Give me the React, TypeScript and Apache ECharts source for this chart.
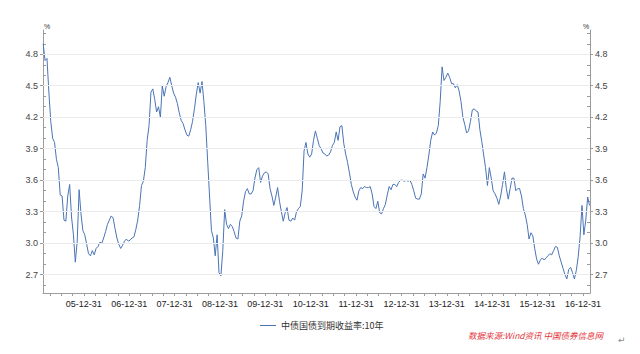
import React, { useEffect, useRef } from 'react';
import * as echarts from 'echarts';

// ---- axis ranges (decimal years / percent) ----
const X_MIN = 2005.1;
const X_MAX = 2017.156;
const Y_MIN = 2.526;
const Y_MAX = 5.031;

// ---- tick labels ----
const xTickLabels = ['05-12-31', '06-12-31', '07-12-31', '08-12-31', '09-12-31', '10-12-31', '11-12-31', '12-12-31', '13-12-31', '14-12-31', '15-12-31', '16-12-31'];
const yTickLabels = [2.7, 3.0, 3.3, 3.6, 3.9, 4.2, 4.5, 4.8];
const yMinorTicks = [2.6, 2.8, 2.9, 3.1, 3.2, 3.4, 3.5, 3.7, 3.8, 4.0, 4.1, 4.3, 4.4, 4.6, 4.7, 4.9, 5.0];
const quarterFractions = [0.25, 0.5, 0.75, 1.0];

const seriesName = '中债国债到期收益率:10年';
const sourceNote = '数据来源:Wind资讯 中国债券信息网';

// ---- semi-monthly readings of the 10Y yield (%) ----
// 2005 starts at the 3rd half-month (early Feb)
const y2005 = [4.90, 4.74, 4.76, 4.44, 4.16, 4.00, 3.96, 3.80, 3.72, 3.46, 3.45, 3.22, 3.21, 3.45, 3.56, 3.25, 3.08, 2.82, 3.02, 3.51, 3.28, 3.12];
const y2006 = [3.08, 2.99, 2.90, 2.88, 2.93, 2.89, 2.95, 2.97, 3.01, 3.00, 3.05, 3.11, 3.18, 3.22, 3.26, 3.24, 3.14, 3.05, 2.99, 2.95, 2.98, 3.02, 3.04, 3.02];
const y2007 = [3.03, 3.05, 3.06, 3.13, 3.22, 3.36, 3.55, 3.59, 3.72, 3.98, 4.12, 4.44, 4.47, 4.37, 4.25, 4.30, 4.20, 4.50, 4.40, 4.49, 4.53, 4.58, 4.50, 4.43];
const y2008 = [4.39, 4.33, 4.24, 4.17, 4.14, 4.08, 4.03, 4.02, 4.08, 4.16, 4.28, 4.42, 4.53, 4.43, 4.54, 4.35, 4.12, 3.78, 3.45, 3.12, 3.05, 2.88, 3.08, 2.72];
const y2009 = [2.69, 2.93, 3.32, 3.18, 3.14, 3.18, 3.16, 3.11, 3.05, 3.04, 3.21, 3.26, 3.40, 3.49, 3.52, 3.47, 3.47, 3.50, 3.62, 3.70, 3.72, 3.58, 3.64, 3.67];
const y2010 = [3.68, 3.66, 3.52, 3.45, 3.36, 3.44, 3.53, 3.40, 3.30, 3.21, 3.29, 3.34, 3.22, 3.21, 3.24, 3.22, 3.30, 3.33, 3.35, 3.50, 3.88, 3.96, 3.85, 3.82];
const y2011 = [3.85, 3.98, 4.07, 4.00, 3.93, 3.90, 3.86, 3.85, 3.83, 3.84, 3.87, 3.93, 3.96, 4.06, 3.98, 4.11, 4.12, 3.95, 3.85, 3.77, 3.67, 3.56, 3.49, 3.44];
const y2012 = [3.41, 3.50, 3.53, 3.52, 3.54, 3.53, 3.53, 3.54, 3.47, 3.35, 3.33, 3.40, 3.29, 3.28, 3.33, 3.37, 3.46, 3.54, 3.51, 3.56, 3.56, 3.54, 3.58, 3.60];
const y2013 = [3.60, 3.59, 3.60, 3.59, 3.60, 3.56, 3.50, 3.43, 3.42, 3.42, 3.47, 3.66, 3.62, 3.72, 3.84, 3.98, 4.06, 4.03, 4.05, 4.12, 4.35, 4.68, 4.55, 4.58];
const y2014 = [4.62, 4.58, 4.52, 4.52, 4.48, 4.51, 4.45, 4.35, 4.20, 4.13, 4.05, 4.07, 4.16, 4.27, 4.28, 4.26, 4.25, 4.08, 3.97, 3.84, 3.72, 3.55, 3.72, 3.62];
const y2015 = [3.50, 3.47, 3.43, 3.37, 3.45, 3.56, 3.68, 3.52, 3.42, 3.52, 3.62, 3.62, 3.50, 3.52, 3.52, 3.45, 3.33, 3.27, 3.18, 3.04, 3.10, 3.07, 2.95, 2.85];
const y2016 = [2.80, 2.84, 2.86, 2.84, 2.86, 2.88, 2.90, 2.89, 2.93, 2.97, 2.96, 2.88, 2.82, 2.76, 2.70, 2.66, 2.75, 2.77, 2.72, 2.66, 2.74, 2.87, 3.06, 3.36];
const y2017 = [3.08, 3.22, 3.44, 3.36];

const STEPS_PER_YEAR = 24;
const yearBlocks: [number, number, number[]][] = [
  [2005, 2, y2005], [2006, 0, y2006], [2007, 0, y2007], [2008, 0, y2008], [2009, 0, y2009],
  [2010, 0, y2010], [2011, 0, y2011], [2012, 0, y2012], [2013, 0, y2013], [2014, 0, y2014],
  [2015, 0, y2015], [2016, 0, y2016], [2017, 0, y2017],
];

function buildData(): [number, number][] {
  const out: [number, number][] = [];
  for (const [year, first, vals] of yearBlocks) {
    vals.forEach((v, i) => out.push([year + (first + i + 0.5) / STEPS_PER_YEAR, v]));
  }
  return out;
}

const xLabelPos = xTickLabels.map((l) => 2000 + parseInt(l.slice(0, 2), 10) + 1);
const labelByPos = new Map<number, string>(xLabelPos.map((p, i) => [p, xTickLabels[i]]));
const xTicks: number[] = [];
for (let y = 2005; y <= 2017; y++) {
  for (const f of quarterFractions) {
    const t = y + f;
    if (t > X_MIN && t < X_MAX) xTicks.push(t);
  }
}

const AXIS_COLOR = '#9c9c9c';
const LABEL_FONT = 'Liberation Sans';
const LINE_COLOR = '#4a74b6';

function mainY(position: 'left' | 'right') {
  return {
    type: 'value',
    position,
    min: Y_MIN,
    max: Y_MAX,
    axisLine: { show: true, lineStyle: { color: AXIS_COLOR, width: 1 } },
    axisTick: { show: true, inside: false, length: 3, customValues: yTickLabels, lineStyle: { color: AXIS_COLOR } },
    axisLabel: {
      show: true,
      customValues: yTickLabels,
      formatter: (v: number) => v.toFixed(1),
      color: '#444',
      fontSize: 9,
      fontFamily: LABEL_FONT,
      margin: 5,
    },
    splitLine: { show: false },
  };
}

function minorY(position: 'left' | 'right') {
  return {
    type: 'value',
    position,
    min: Y_MIN,
    max: Y_MAX,
    axisLine: { show: false },
    axisTick: { show: true, inside: true, length: 3, customValues: yMinorTicks, lineStyle: { color: AXIS_COLOR } },
    axisLabel: { show: false },
    splitLine: { show: false },
  };
}

export default function App() {
  const ref = useRef<HTMLDivElement>(null);
  useEffect(() => {
    if (!ref.current) return;
    const chart = echarts.init(ref.current, null, { renderer: 'svg' });
    const data = buildData();
    chart.setOption({
      animation: false,
      backgroundColor: '#ffffff',
      grid: { left: 43, right: 50, top: 30, bottom: 61, containLabel: false },
      xAxis: {
        type: 'value',
        min: X_MIN,
        max: X_MAX,
        axisLine: { show: true, onZero: false, lineStyle: { color: AXIS_COLOR, width: 1 } },
        axisTick: { show: true, length: 3, customValues: xTicks, lineStyle: { color: AXIS_COLOR } },
        axisLabel: {
          customValues: xLabelPos,
          formatter: (v: number) => labelByPos.get(Math.round(v)) ?? '',
          color: '#222',
          fontSize: 9,
          fontFamily: LABEL_FONT,
          margin: 6,
        },
        splitLine: { show: false },
      },
      yAxis: [mainY('left'), mainY('right'), minorY('left'), minorY('right')],
      legend: {
        data: [seriesName],
        icon: 'rect',
        left: 260,
        top: 321,
        padding: 0,
        itemWidth: 16,
        itemHeight: 1,
        itemGap: 4,
        textStyle: { fontSize: 9, color: '#333', fontFamily: 'Noto Sans CJK SC' },
      },
      series: [
        {
          type: 'line',
          name: '__grid',
          data: [],
          yAxisIndex: 0,
          z: 1,
          silent: true,
          markLine: {
            silent: true,
            symbol: ['none', 'none'],
            label: { show: false },
            lineStyle: { color: '#ebebeb', type: 'solid', width: 1 },
            data: yTickLabels.map((v) => ({ yAxis: v })),
          },
        },
        {
          type: 'line',
          name: seriesName,
          data,
          yAxisIndex: 0,
          z: 3,
          symbol: 'none',
          showSymbol: false,
          lineStyle: { color: LINE_COLOR, width: 1 },
          itemStyle: { color: LINE_COLOR },
        },
      ],
      graphic: [
        { type: 'text', left: 44, top: 23, style: { text: '%', fontSize: 7, fill: '#333', fontFamily: LABEL_FONT } },
        { type: 'text', left: 583, top: 23, style: { text: '%', fontSize: 7, fill: '#333', fontFamily: LABEL_FONT } },
        {
          type: 'text',
          left: 468,
          top: 331,
          style: { text: sourceNote, fill: '#e3363c', fontSize: 8.5, fontStyle: 'italic', fontFamily: 'Noto Sans CJK SC' },
        },
        { type: 'text', left: 618, top: 335, style: { text: '↵', fill: '#8a8a8a', fontSize: 9, fontFamily: 'DejaVu Sans' } },
      ],
    });
    return () => chart.dispose();
  }, []);
  return <div ref={ref} style={{ position: 'absolute', left: 0, top: 0, width: 640, height: 354, background: '#fff' }} />;
}
